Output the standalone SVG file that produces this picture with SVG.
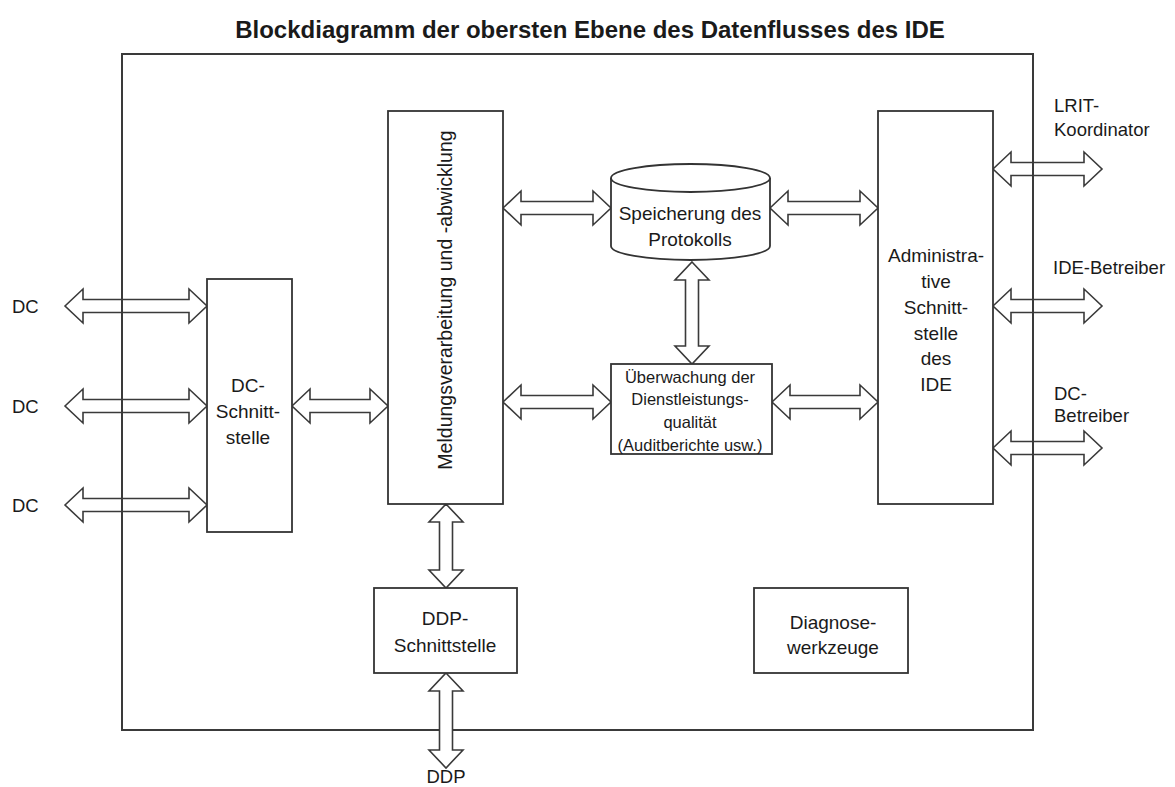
<svg xmlns="http://www.w3.org/2000/svg" width="1175" height="787" viewBox="0 0 1175 787">
<style>
.box{fill:#fff;stroke:#333;stroke-width:1.8}
.frame{fill:none;stroke:#3a3a3a;stroke-width:2}
.arr{fill:#fff;stroke:#3a3a3a;stroke-width:1.6;stroke-linejoin:miter}
text{font-family:"Liberation Sans",Arial,sans-serif;fill:#1a1a1a}
.t{font-size:19px;text-anchor:middle}
.s{font-size:16.5px;text-anchor:middle}
.l{font-size:18.5px}
.title{font-size:24px;font-weight:bold;text-anchor:middle}
</style>
<rect width="1175" height="787" fill="#fff"/>
<text class="title" x="590" y="38">Blockdiagramm der obersten Ebene des Datenflusses des IDE</text>

<g id="connectors">
<polygon class="arr" points="65,306 83,289 83,299.5 189,299.5 189,289 207,306 189,323 189,312.5 83,312.5 83,323"/>
<polygon class="arr" points="65,406 83,389 83,399.5 189,399.5 189,389 207,406 189,423 189,412.5 83,412.5 83,423"/>
<polygon class="arr" points="65,505 83,488 83,498.5 189,498.5 189,488 207,505 189,522 189,511.5 83,511.5 83,522"/>
<polygon class="arr" points="292,406 310,389 310,399.5 370,399.5 370,389 388,406 370,423 370,412.5 310,412.5 310,423"/>
<polygon class="arr" points="503,208 521,191 521,201.5 593,201.5 593,191 611,208 593,225 593,214.5 521,214.5 521,225"/>
<polygon class="arr" points="770,208 788,191 788,201.5 860,201.5 860,191 878,208 860,225 860,214.5 788,214.5 788,225"/>
<polygon class="arr" points="503,402 521,385 521,395.5 593,395.5 593,385 611,402 593,419 593,408.5 521,408.5 521,419"/>
<polygon class="arr" points="772,402 790,385 790,395.5 860,395.5 860,385 878,402 860,419 860,408.5 790,408.5 790,419"/>
<polygon class="arr" points="993,169 1011,152 1011,162.5 1084,162.5 1084,152 1102,169 1084,186 1084,175.5 1011,175.5 1011,186"/>
<polygon class="arr" points="993,306 1011,289 1011,299.5 1084,299.5 1084,289 1102,306 1084,323 1084,312.5 1011,312.5 1011,323"/>
<polygon class="arr" points="993,448 1011,431 1011,441.5 1084,441.5 1084,431 1102,448 1084,465 1084,454.5 1011,454.5 1011,465"/>
<polygon class="arr" points="692,262 709,280 698.5,280 698.5,346 709,346 692,364 675,346 685.5,346 685.5,280 675,280"/>
<polygon class="arr" points="446,504 463,522 452.5,522 452.5,570 463,570 446,588 429,570 439.5,570 439.5,522 429,522"/>
</g>

<g id="ide-frame">
<rect class="frame" x="122" y="54" width="911" height="676"/>
</g>

<g id="connector-ddp">
<polygon class="arr" points="446,673 463,691 452.5,691 452.5,750 463,750 446,768 429,750 439.5,750 439.5,691 429,691"/>
</g>

<g id="dc-labels">
<text class="l" x="12" y="313">DC</text>
<text class="l" x="12" y="413">DC</text>
<text class="l" x="12" y="512">DC</text>
</g>

<g id="dc-schnittstelle">
<rect class="box" x="207" y="279" width="85" height="253"/>
<text class="t" x="248" y="392">DC-</text>
<text class="t" x="248" y="418">Schnitt-</text>
<text class="t" x="248" y="444">stelle</text>
</g>

<g id="meldungsverarbeitung">
<rect class="box" x="388" y="111" width="115" height="393"/>
<text class="t" transform="translate(445,300) rotate(-90)" x="0" y="7" style="font-size:19.5px">Meldungsverarbeitung und -abwicklung</text>
</g>

<g id="speicherung">
<path class="box" d="M611,178 L611,246 A79.5,14 0 0 0 770,246 L770,178"/>
<ellipse class="box" cx="690.5" cy="178" rx="79.5" ry="14"/>
<text class="t" x="690" y="220">Speicherung des</text>
<text class="t" x="690" y="246">Protokolls</text>
</g>

<g id="ueberwachung">
<rect class="box" x="611" y="364" width="161" height="90"/>
<text class="s" x="690" y="383">Überwachung der</text>
<text class="s" x="690" y="405">Dienstleistungs-</text>
<text class="s" x="690" y="428">qualität</text>
<text class="s" x="690" y="451">(Auditberichte usw.)</text>
</g>

<g id="administrative-schnittstelle">
<rect class="box" x="878" y="111" width="115" height="393"/>
<text class="t" x="936" y="262">Administra-</text>
<text class="t" x="936" y="288">tive</text>
<text class="t" x="936" y="314">Schnitt-</text>
<text class="t" x="936" y="340">stelle</text>
<text class="t" x="936" y="365">des</text>
<text class="t" x="936" y="391">IDE</text>
</g>

<g id="right-labels">
<text class="l" x="1054" y="112">LRIT-</text>
<text class="l" x="1054" y="136">Koordinator</text>
<text class="l" x="1053" y="274">IDE-Betreiber</text>
<text class="l" x="1054" y="400">DC-</text>
<text class="l" x="1054" y="422">Betreiber</text>
</g>

<g id="ddp-schnittstelle">
<rect class="box" x="374" y="588" width="143" height="85"/>
<text class="t" x="445" y="625">DDP-</text>
<text class="t" x="445" y="652">Schnittstelle</text>
</g>

<g id="diagnosewerkzeuge">
<rect class="box" x="754" y="588" width="154" height="85"/>
<text class="t" x="833" y="629">Diagnose-</text>
<text class="t" x="833" y="654">werkzeuge</text>
</g>

<g id="ddp-label">
<text class="l" x="446" y="783" text-anchor="middle">DDP</text>
</g>
</svg>
